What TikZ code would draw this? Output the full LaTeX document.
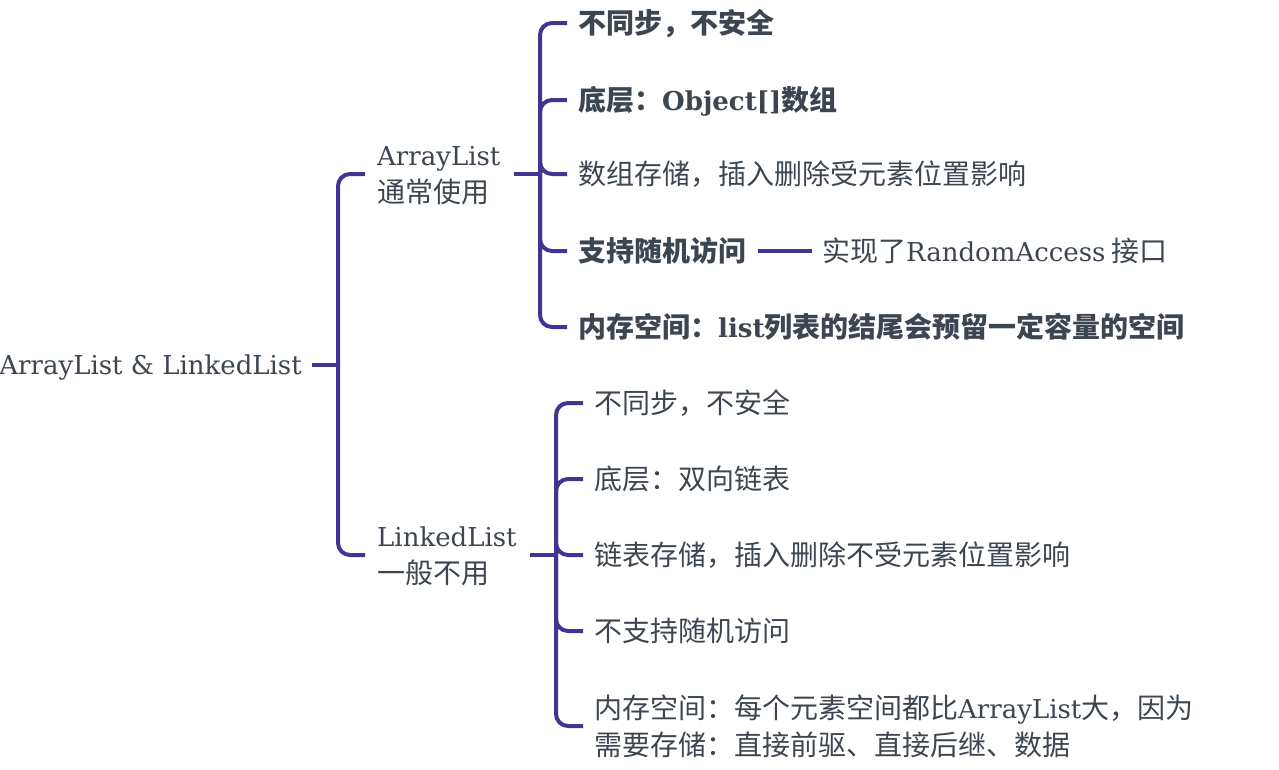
\documentclass[tikz,border=0pt]{standalone}
\usepackage{fontspec}
\setmainfont{DejaVu Serif}
\newfontfamily\cjkfam{Noto Sans CJK SC}
\newcommand\cjk{\cjkfam\fontsize{28}{37}\selectfont}
\newcommand\lat{\rmfamily\fontsize{26}{37}\selectfont}
\definecolor{ink}{HTML}{3D4650}
\definecolor{branch}{HTML}{433393}

\begin{document}
\begin{tikzpicture}[x=1pt,y=-1pt,
    link/.style={draw=branch,line width=4pt,rounded corners=12pt},
    item/.style={anchor=west,inner sep=0pt,text=ink,font=\cjk,text height=24pt,text depth=3pt},
    key/.style={item,font=\cjk\bfseries},
    topic/.style={anchor=west,inner sep=0pt,text=ink,font=\lat,align=left}]
  \useasboundingbox (0,0) rectangle (1279,769);
  % centre and the two lists
  \node[anchor=east,inner sep=0pt,text=ink,font=\lat,text height=20pt,text depth=2pt] (root) at (302,365) {ArrayList \& LinkedList};
  \coordinate (s0) at (338,365);
  \coordinate (s1) at (540,174);
  \coordinate (s2) at (556,555);
  \node[topic] (al) at (377,176) {ArrayList\\{\cjk 通常使用}};
  \node[topic] (ll) at (377,556) {LinkedList\\{\cjk 一般不用}};
  % ArrayList
  \node[key] (a1) at (578,23) {不同步，不安全};
  \node[key] (a2) at (578,100) {底层：{\lat Object[]}数组};
  \node[item] (a3) at (578,174) {数组存储，插入删除受元素位置影响};
  \node[key] (a4) at (578,251) {支持随机访问};
  \node[item] (a4x) at (822,251) {实现了{\lat RandomAccess} 接口};
  \node[key] (a5) at (578,327) {内存空间：{\lat list}列表的结尾会预留一定容量的空间};
  % LinkedList
  \node[item] (l1) at (594,403) {不同步，不安全};
  \node[item] (l2) at (594,479) {底层：双向链表};
  \node[item] (l3) at (594,555) {链表存储，插入删除不受元素位置影响};
  \node[item] (l4) at (594,631) {不支持随机访问};
  \node[topic,font=\cjk] (l5) at (594,726) {内存空间：每个元素空间都比{\lat ArrayList}大，因为\\需要存储：直接前驱、直接后继、数据};
  % branches
  \draw[link] ([xshift=10pt]root.east) -- (s0);
  \draw[link] (s0) |- ([xshift=-12pt]al.west |- s1);
  \draw[link] (s0) |- ([xshift=-12pt]ll.west |- s2);
  \draw[link] ([xshift=13pt]al.east |- s1) -- (s1);
  \draw[link] ([xshift=13pt]ll.east |- s2) -- (s2);
  \foreach \i in {1,...,5} \draw[link] (s1) |- ([xshift=-11pt]a\i.west);
  \foreach \i in {1,...,5} \draw[link] (s2) |- ([xshift=-11pt]l\i.west);
  \draw[link] ([xshift=12pt]a4.east) -- ([xshift=-10pt]a4x.west);
\end{tikzpicture}
\end{document}
